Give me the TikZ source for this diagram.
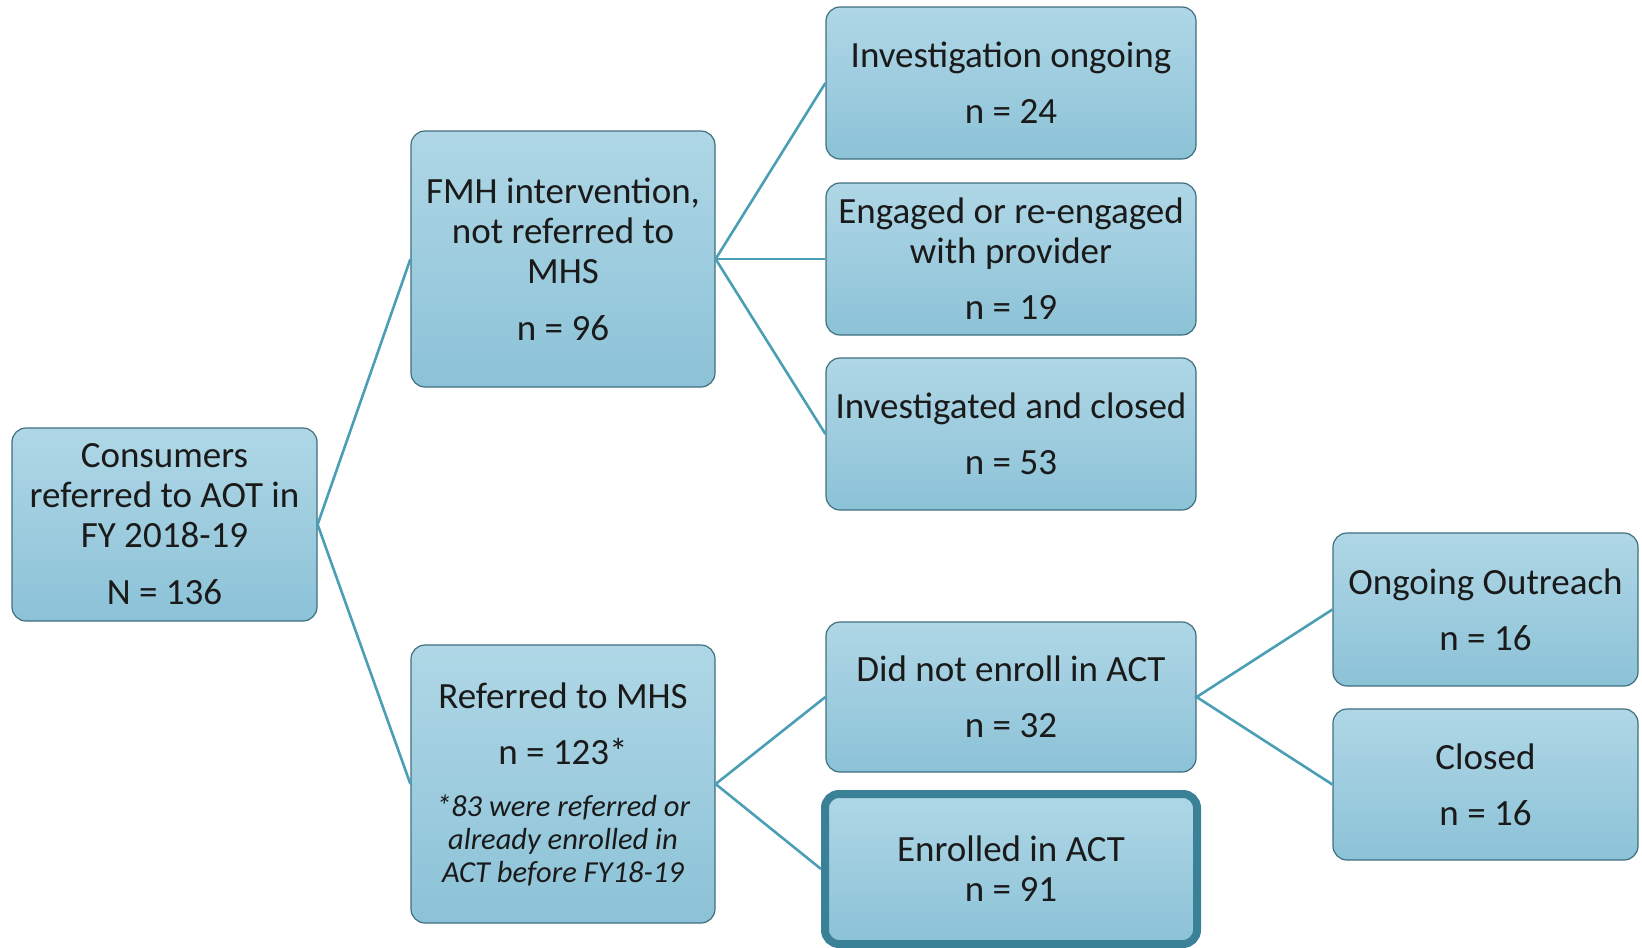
\documentclass[tikz,border=0pt]{standalone}
\usepackage{fontspec}
\setmainfont{Carlito}
\definecolor{boxtop}{HTML}{AFD7E6}
\definecolor{boxbot}{HTML}{8CC2D7}
\definecolor{boxline}{HTML}{3F6F80}
\definecolor{thickline}{HTML}{3A8198}
\definecolor{conn}{HTML}{4A9FB5}
\definecolor{txt}{HTML}{1A1A1A}
\tikzset{
  box/.style={rectangle, rounded corners=14pt, draw=boxline, line width=1.2pt,
    top color=boxtop, bottom color=boxbot, align=center, inner sep=0pt,
    text=txt, font=\fontsize{37}{40}\selectfont},
  bigbox/.style={box, draw=thickline, line width=8pt},
  conline/.style={draw=conn, line width=2.6pt}
}
\newcommand{\notefont}{\fontsize{30.5}{33}\selectfont\itshape}
\begin{document}
\begin{tikzpicture}[x=1pt,y=-1pt]
\useasboundingbox (0,0) rectangle (1642,948);
\node[box, minimum width=305, minimum height=193] (root) at (164.5,524.5)
  {Consumers\\referred to AOT in\\FY 2018-19\\[17pt]N = 136};
\node[box, minimum width=304, minimum height=256] (fmh) at (563,259)
  {FMH intervention,\\not referred to\\MHS\\[17pt]n = 96};
\node[box, minimum width=304, minimum height=278] (ref) at (563,784)
  {Referred to MHS\\[16pt]n = 123*\\[12pt]{\notefont *83 were referred or}\\[-7pt]{\notefont already enrolled in}\\[-7pt]{\notefont ACT before FY18-19}};
\node[box, minimum width=370, minimum height=152] (inv) at (1011,83)
  {Investigation ongoing\\[16pt]n = 24};
\node[box, minimum width=370, minimum height=152] (eng) at (1011,259)
  {Engaged or re-engaged\\with provider\\[16pt]n = 19};
\node[box, minimum width=370, minimum height=152] (invc) at (1011,434)
  {Investigated and closed\\[16pt]n = 53};
\node[box, minimum width=370, minimum height=150] (dne) at (1011,697)
  {Did not enroll in ACT\\[16pt]n = 32};
\node[bigbox, minimum width=372, minimum height=150] (enr) at (1011,869)
  {Enrolled in ACT\\n = 91};
\node[box, minimum width=305, minimum height=153] (oo) at (1485.5,609.5)
  {Ongoing Outreach\\[16pt]n = 16};
\node[box, minimum width=305, minimum height=151] (clo) at (1485.5,784.5)
  {Closed\\[16pt]n = 16};
\draw[conline] (fmh.west) -- (root.east) -- (ref.west);
\draw[conline] (fmh.east) -- (inv.west);
\draw[conline] (fmh.east) -- (eng.west);
\draw[conline] (fmh.east) -- (invc.west);
\draw[conline] (dne.west) -- (ref.east) -- (enr.west);
\draw[conline] (oo.west) -- (dne.east) -- (clo.west);
\end{tikzpicture}
\end{document}
